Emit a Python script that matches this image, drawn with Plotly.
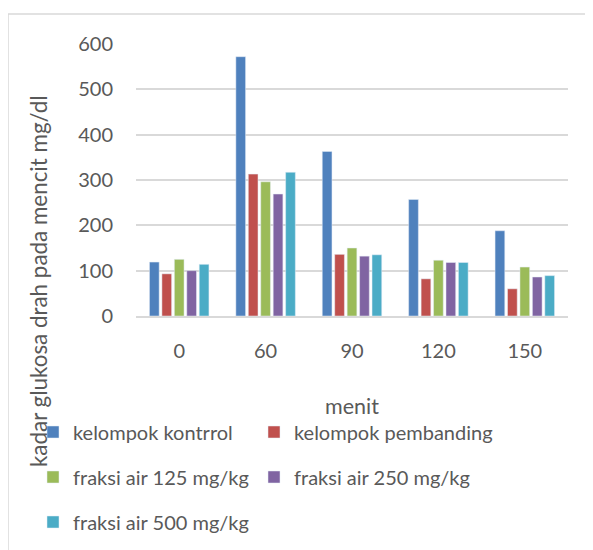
import plotly.graph_objects as go

categories = ["0", "60", "90", "120", "150"]
series_names = ["kelompok kontrrol", "kelompok pembanding", "fraksi air 125 mg/kg",
                "fraksi air 250 mg/kg", "fraksi air 500 mg/kg"]
kontrol = [119, 572, 363, 257, 188]
pembanding = [93, 313, 136, 82, 60]
fraksi_125 = [125, 296, 150, 123, 108]
fraksi_250 = [100, 269, 132, 118, 86]
fraksi_500 = [114, 317, 135, 118, 89]
y_ticks = [0, 100, 200, 300, 400, 500, 600]

series_values = [kontrol, pembanding, fraksi_125, fraksi_250, fraksi_500]
colors = ["#4F81BD", "#C0504D", "#9BBB59", "#8064A2", "#4BACC6"]

# page body has an 8px margin: work in figure coords = screen coords - 8
OFF = 8
W, H = 593 - OFF, 550 - OFF
L, T = 136 - OFF, 44 - OFF
R = W - (568 - OFF)
B = H - (316 - OFF)
pw, ph = W - L - R, H - T - B

def px_x(px):  # screen px -> paper
    return (px - OFF - L) / pw

def px_y(py):
    return (H - B - (py - OFF)) / ph

FONT = "Lato"
TXT = "#595959"
FS = 20

# legend positions (screen px): left of legend box, row center
leg_pos = [(33, 432), (254, 432), (33, 477), (254, 477), (33, 522)]
legend_ids = ["legend", "legend2", "legend3", "legend4", "legend5"]

fig = go.Figure()
for name, vals, col, lid in zip(series_names, series_values, colors, legend_ids):
    fig.add_trace(go.Bar(x=categories, y=vals, name=name, marker_color=col,
                         legend=lid))

layout_legends = {}
for lid, (lx, ly) in zip(legend_ids, leg_pos):
    layout_legends[lid] = dict(
        xref="container", yref="container",
        x=(lx - OFF) / W, y=1 - (ly - OFF) / H, xanchor="left", yanchor="middle",
        orientation="h", font=dict(family=FONT, size=FS, color=TXT),
        bgcolor="rgba(0,0,0,0)", borderwidth=0, itemwidth=30,
    )

fig.update_layout(
    width=W, height=H,
    margin=dict(l=L, r=R, t=T, b=B, pad=0),
    paper_bgcolor="white", plot_bgcolor="white",
    barmode="group", bargap=0.28, bargroupgap=0.22,
    font=dict(family=FONT, size=FS, color=TXT),
    showlegend=True,
    **layout_legends,
)

fig.update_xaxes(
    type="category", showline=True, linecolor="#D9D9D9", linewidth=2,
    showgrid=False, ticks="", ticklabelstandoff=16,
    tickfont=dict(family=FONT, size=FS, color=TXT),
)
fig.update_yaxes(
    range=[0, 600], tickvals=y_ticks, showgrid=True, gridcolor="#D9D9D9",
    gridwidth=1.5, zeroline=False, showline=False, ticks="",
    ticklabelstandoff=22,
    tickfont=dict(family=FONT, size=FS, color=TXT),
)

# axis titles as annotations
fig.add_annotation(text="kadar glukosa drah pada mencit mg/dl", textangle=-90,
                   xref="paper", yref="paper", x=px_x(38), y=px_y(282),
                   xanchor="center", yanchor="middle", showarrow=False,
                   font=dict(family=FONT, size=22.4, color=TXT))
fig.add_annotation(text="menit", xref="paper", yref="paper",
                   x=0.5, y=px_y(406), xanchor="center", yanchor="middle",
                   showarrow=False, font=dict(family=FONT, size=21.5, color=TXT))

# chart border
fig.add_shape(type="rect", xref="paper", yref="paper",
              x0=px_x(8), x1=px_x(640), y0=px_y(620), y1=px_y(14),
              line=dict(color="#D9D9D9", width=1.5), fillcolor="rgba(0,0,0,0)",
              layer="below")

fig.write_html("out.html")
